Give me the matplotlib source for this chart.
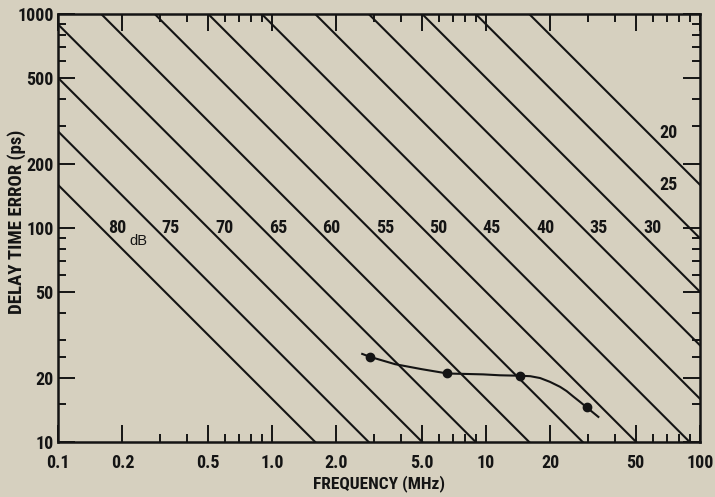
import numpy as np
import matplotlib.pyplot as plt
from matplotlib.ticker import FixedLocator, FixedFormatter, NullFormatter

# attenuation levels for the constant-error lines (dB)
db_levels = [80, 75, 70, 65, 60, 55, 50, 45, 40, 35, 30, 25, 20]

# measured delay time error
meas_freq = [2.87, 6.6, 14.4, 29.6]
meas_err = [25.0, 20.9, 20.4, 14.5]

# smooth curve drawn through the measurements
curve_freq = [2.64, 2.87, 3.76, 5.0, 6.6, 9.7, 11.6, 14.4, 16.1, 17.9, 19.9,
              22.2, 23.8, 25.6, 27.5, 29.6, 33.5]
curve_err = [25.8, 25.0, 23.1, 21.9, 20.9, 20.7, 20.5, 20.4, 20.3, 19.9, 19.1,
             18.1, 17.3, 16.3, 15.4, 14.5, 13.1]

x_major = [0.1, 0.2, 0.5, 1, 2, 5, 10, 20, 50, 100]
x_labels = ['0.1', '0.2', '0.5', '1.0', '2.0', '5.0', '10', '20', '50', '100']
x_minor = [0.3, 0.4, 0.6, 0.7, 0.8, 0.9, 3, 4, 6, 7, 8, 9, 30, 40, 60, 70, 80, 90]
y_major = [10, 20, 50, 100, 200, 500, 1000]
y_labels = ['10', '20', '50', '100', '200', '500', '1000']
y_minor = [15, 25, 30, 40, 60, 70, 80, 90, 300, 400, 600, 700, 800, 900]


def delay_error(f_mhz, db):
    # phase error of 10^(-dB/20) rad turned into delay, in ps
    return 1e6 / (2 * np.pi * np.asarray(f_mhz)) * 10 ** (-db / 20.0)


bg = '#d6d0bf'
ink = '#141414'
narrow = ['Roboto Condensed', 'Liberation Sans', 'DejaVu Sans']

fig = plt.figure(figsize=(7.15, 4.97), dpi=100, facecolor=bg)
ax = fig.add_axes([58 / 715, 1 - 442 / 497, 642 / 715, 428 / 497])
ax.set_facecolor(bg)
ax.set_xscale('log')
ax.set_yscale('log')
ax.set_xlim(0.1, 100)
ax.set_ylim(10, 1000)

f_span = np.array([0.01, 1000.0])
for db in db_levels:
    ax.plot(f_span, delay_error(f_span, db), color=ink, lw=1.5)

# dB labels sit just to the right of each line
for db in db_levels:
    if db == 25:
        y_lab, dx = 159, 9
    elif db == 20:
        y_lab, dx = 278, 8
    else:
        y_lab, dx = 100, 5
    x_lab = float(delay_error(1.0, db)) / y_lab
    ax.annotate(str(db), (x_lab, y_lab), xytext=(dx, 0), textcoords='offset points',
                ha='left', va='center', fontsize=13, fontweight='bold',
                family=narrow, color=ink)
ax.annotate('dB', (float(delay_error(1.0, 80)) / 100, 100), xytext=(27, -9.5),
            textcoords='offset points', ha='center', va='center', fontsize=10.5,
            family=['Liberation Sans', 'DejaVu Sans'], color=ink)

ax.plot(curve_freq, curve_err, color=ink, lw=1.5)
ax.plot(meas_freq, meas_err, 'o', color=ink, ms=6)

ax.xaxis.set_major_locator(FixedLocator(x_major))
ax.xaxis.set_major_formatter(FixedFormatter(x_labels))
ax.xaxis.set_minor_locator(FixedLocator(x_minor))
ax.xaxis.set_minor_formatter(NullFormatter())
ax.yaxis.set_major_locator(FixedLocator(y_major))
ax.yaxis.set_major_formatter(FixedFormatter(y_labels))
ax.yaxis.set_minor_locator(FixedLocator(y_minor))
ax.yaxis.set_minor_formatter(NullFormatter())

ax.tick_params(which='both', direction='in', top=True, right=True, color=ink,
               width=1.4)
ax.tick_params(which='major', length=12)
ax.tick_params(which='minor', length=6)
ax.tick_params(axis='x', pad=9)
ax.tick_params(axis='y', pad=3)
for lab in ax.get_xticklabels() + ax.get_yticklabels():
    lab.set_family(narrow)
    lab.set_fontsize(13)
    lab.set_fontweight('bold')
    lab.set_color(ink)

for sp in ax.spines.values():
    sp.set_linewidth(1.8)
    sp.set_color(ink)

ax.set_xlabel('FREQUENCY (MHz)', family=narrow, fontsize=12.5, fontweight='bold',
              color=ink, labelpad=2)
ax.set_ylabel('DELAY TIME ERROR (ps)', family=narrow, fontsize=13.5,
              fontweight='bold', color=ink)
ax.yaxis.set_label_coords(-0.05, 0.514)

fig.savefig('out.png', dpi=100, facecolor=bg)
